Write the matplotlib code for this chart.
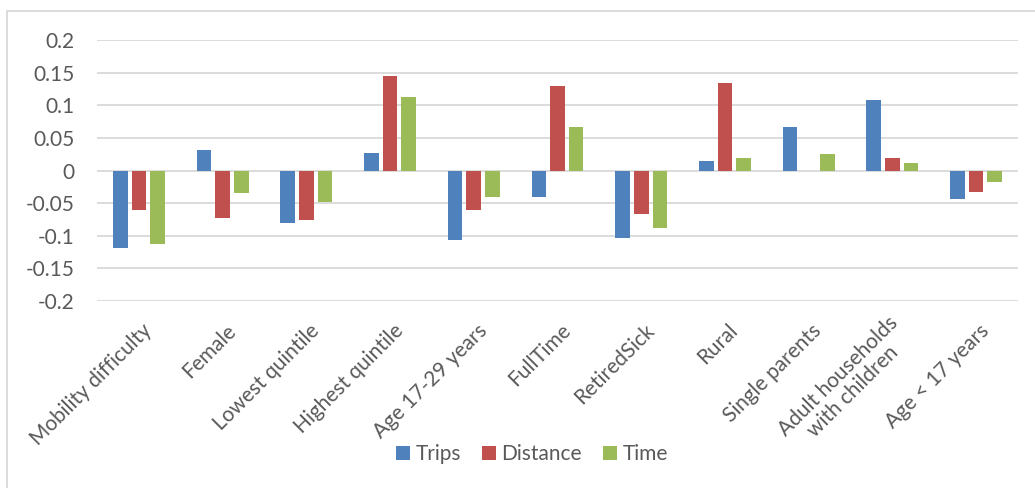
import numpy as np
import matplotlib
matplotlib.use("Agg")
import matplotlib.pyplot as plt
from matplotlib.transforms import ScaledTranslation
from matplotlib.patches import Rectangle

categories = ["Mobility difficulty", "Female", "Lowest quintile", "Highest quintile",
              "Age 17-29 years", "FullTime", "RetiredSick", "Rural", "Single parents",
              "Adult households\nwith children", "Age < 17 years"]
trips = [-0.119, 0.032, -0.081, 0.027, -0.107, -0.040, -0.104, 0.015, 0.066, 0.108, -0.043]
distance = [-0.061, -0.073, -0.076, 0.145, -0.061, 0.129, -0.066, 0.134, 0.0, 0.019, -0.033]
time = [-0.113, -0.034, -0.049, 0.112, -0.041, 0.066, -0.088, 0.019, 0.026, 0.012, -0.017]
series_names = ["Trips", "Distance", "Time"]
colors = ["#4F81BD", "#C0504D", "#9BBB59"]
text_color = "#595959"
grid_color = "#D9D9D9"

plt.rcParams["font.family"] = ["Lato", "DejaVu Sans"]
plt.rcParams["font.size"] = 15

fig = plt.figure(figsize=(10.35, 4.88), dpi=100)
ax = fig.add_axes([97 / 1035, 1 - 301 / 488, (1018 - 97) / 1035, (301 - 40) / 488])

# outer chart border
fig.patches.append(Rectangle((7 / 1035, -0.05), 1.1, 1 - 11 / 488 + 0.05,
                             transform=fig.transFigure, fill=False,
                             edgecolor=grid_color, linewidth=1.3, zorder=0))

x = np.arange(len(categories))
step = 0.223
width = 0.175
for i, (vals, name, col) in enumerate(zip([trips, distance, time], series_names, colors)):
    ax.bar(x + (i - 1) * step, vals, width, color=col, label=name, zorder=3)

ax.set_xlim(-0.5, len(categories) - 0.5)
ax.set_ylim(-0.2, 0.2)
ax.set_yticks(np.arange(-0.2, 0.2001, 0.05))
ax.set_yticklabels(["-0.2", "-0.15", "-0.1", "-0.05", "0", "0.05", "0.1", "0.15", "0.2"])
ax.yaxis.grid(True, color=grid_color, linewidth=1.3, zorder=0)
ax.set_axisbelow(True)
for s in ax.spines.values():
    s.set_visible(False)
ax.tick_params(axis="y", length=0, pad=16, labelcolor=text_color, labelsize=15)
ax.tick_params(axis="x", length=0, pad=19, labelcolor=text_color, labelsize=15)

ax.set_xticks(x)
ax.set_xticklabels(categories)
shift = ScaledTranslation(10 / 100, 0, fig.dpi_scale_trans)
for lbl in ax.get_xticklabels():
    lbl.set_rotation(45)
    lbl.set_rotation_mode("anchor")
    lbl.set_ha("right")
    lbl.set_va("center")
    lbl.set_multialignment("center")
    lbl.set_linespacing(1.05)
    lbl.set_transform(lbl.get_transform() + shift)

leg = fig.legend(loc="center", bbox_to_anchor=(532 / 1035, 1 - 454 / 488), ncol=3,
                 frameon=False, handlelength=0.68, handleheight=0.68,
                 handletextpad=0.26, columnspacing=1.0, fontsize=15)
for t in leg.get_texts():
    t.set_color(text_color)

fig.savefig("out.png", dpi=100)
